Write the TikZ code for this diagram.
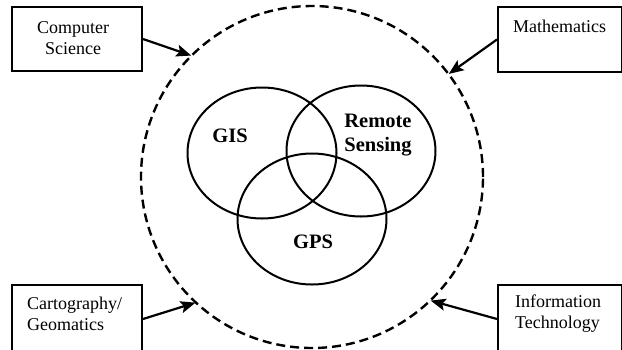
\documentclass[tikz,border=0pt]{standalone}
\usepackage{fontspec}
\setmainfont{Liberation Serif}
\usetikzlibrary{arrows.meta,shapes.geometric}
\begin{document}
\begin{tikzpicture}[x=1pt,y=-1pt,
  box/.style={draw,line width=2pt,rectangle,inner sep=0pt},
  boxtext/.style={font=\fontsize{18}{21}\selectfont,inner sep=0pt},
  venn/.style={draw,line width=2pt,ellipse,inner sep=0pt,minimum width=149pt,minimum height=131pt},
  venntext/.style={font=\fontsize{20.5}{24}\bfseries\selectfont,inner sep=0pt,align=center},
  feed/.style={line width=2.2pt,-{Stealth[length=15pt,width=12pt,inset=3pt]},shorten >=-1pt}]
\useasboundingbox (0,0) rectangle (622,349);
\clip (0,0) rectangle (622,349);

% outer dashed boundary
\node[draw,circle,dashed,dash pattern=on 9pt off 5pt,line width=2.4pt,
      minimum size=342pt,inner sep=0pt] (outer) at (312,177) {};

% three overlapping fields
\node[venn] (gis) at (262,153) {};
\node[venn] (rs)  at (361,151) {};
\node[venn] (gps) at (312,219) {};
\node[venntext] (lgis) at (230,136) {GIS};
\node[venntext] (lrs)  at (378,135) {Remote\\Sensing};
\node[venntext] (lgps) at (313,242) {GPS};

% contributing disciplines
\node[box,minimum width=130pt,minimum height=64pt] (cs)   at (77,39)   {};
\node[box,minimum width=124pt,minimum height=65pt] (math) at (560,39.5) {};
\node[box,minimum width=130pt,minimum height=68pt] (cart) at (77,319)  {};
\node[box,minimum width=124pt,minimum height=68pt] (it)   at (560,319) {};

\node[boxtext,align=center] (tcs) at (73,38) {Computer\\Science};
\node[boxtext,anchor=west] (tmath) at (513,26) {Mathematics};
\node[boxtext,align=left,anchor=west] (tcart) at (27,314) {Cartography/\\Geomatics};
\node[boxtext,align=left,anchor=west] (tit) at (515,314) {Information\\Technology};

% arrows into the boundary
\draw[feed] (cs.east)   -- (outer.135);
\draw[feed] (math.west) -- (outer.37);
\draw[feed] (cart.east) -- (outer.227);
\draw[feed] (it.west)   -- (outer.314);
\end{tikzpicture}
\end{document}
